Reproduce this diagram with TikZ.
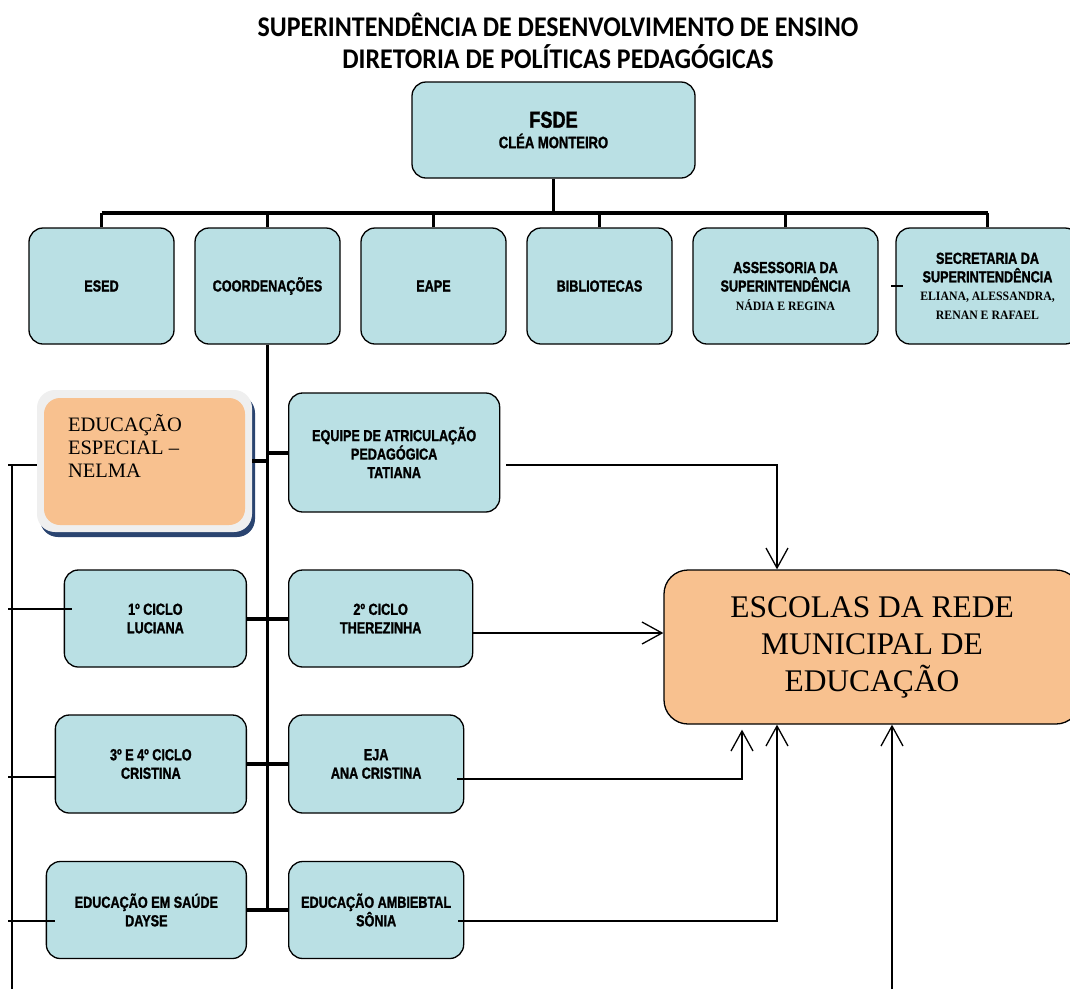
\documentclass[tikz,border=0pt]{standalone}
\usepackage{fontspec}
\usetikzlibrary{positioning,arrows.meta}

\definecolor{boxblue}{HTML}{BAE0E4}
\definecolor{boxorange}{HTML}{F8C18F}
\definecolor{framegray}{HTML}{EFEFEF}
\definecolor{shadownavy}{HTML}{2A4470}

\newfontfamily\boxfont[FakeStretch=0.79,FakeBold=1.4]{Liberation Sans Bold}
\newfontfamily\namefont[FakeStretch=0.92]{Liberation Serif Bold}
\newfontfamily\bigserif{Liberation Serif}
\newfontfamily\titlefont[FakeStretch=0.91]{Carlito Bold}
\newcommand{\staffname}[1]{{\namefont\fontsize{12.8}{14.5}\selectfont #1}}

\begin{document}
\begin{tikzpicture}[x=1pt,y=-1pt,>={Straight Barb[length=20pt,width=22pt]},
  unit box/.style={draw=black,line width=1.3pt,fill=boxblue,rounded corners=14pt,align=center,inner sep=2pt,font=\boxfont\fontsize{16}{18.5}\selectfont},
  top box/.style={unit box,minimum width=145pt,minimum height=116pt},
  sub box/.style={unit box,minimum height=97pt},
  bus line/.style={line width=4pt},
  drop line/.style={line width=2.2pt},
  trunk line/.style={line width=3pt},
  link line/.style={line width=4pt},
  rail line/.style={line width=1.3pt},
  flow line/.style={line width=1.3pt,->}]

  \path[use as bounding box,fill=white] (0,0) rectangle (1070,989);

  % titulo
  \node[font=\titlefont\fontsize{28.5}{32}\selectfont,align=center] (title) at (558,41)
    {SUPERINTENDÊNCIA DE DESENVOLVIMENTO DE ENSINO\\DIRETORIA DE POLÍTICAS PEDAGÓGICAS};

  % topo do organograma
  \node[unit box,minimum width=283pt,minimum height=96pt] (fsde) at (553.5,130)
    {{\fontsize{23}{24}\selectfont FSDE}\\[2pt]{\fontsize{16.5}{18.5}\selectfont CLÉA MONTEIRO}};

  \node[top box] (esed) at (101.5,286) {ESED};
  \node[top box] (coord) [right=19.7pt of esed] {COORDENAÇÕES};
  \node[top box] (eape) [right=19.7pt of coord] {EAPE};
  \node[top box] (biblio) [right=19.7pt of eape] {BIBLIOTECAS};
  \node[top box,minimum width=185pt] (assess) [right=19.7pt of biblio]
    {ASSESSORIA DA\\SUPERINTENDÊNCIA\\\staffname{NÁDIA E REGINA}};
  \node[top box,minimum width=183pt] (secr) [right=16.7pt of assess]
    {SECRETARIA DA\\SUPERINTENDÊNCIA\\\staffname{ELIANA, ALESSANDRA,}\\\staffname{RENAN E RAFAEL}};

  \path (fsde.south) ++(0,34) coordinate (bus);
  \draw[drop line] (fsde.south) -- (bus);
  \draw[bus line] (esed.north |- bus) -- (secr.north |- bus);
  \foreach \n in {esed,coord,eape,biblio,assess,secr}
    \draw[drop line] (\n.north) -- (\n.north |- bus);
  \draw[rail line] ([xshift=-4pt]secr.west) -- ([xshift=8pt]secr.west);

  % coordenacoes
  \node[fill=shadownavy,rounded corners=18pt,minimum width=215pt,minimum height=142pt] (especial shadow) at (147.5,466) {};
  \node[fill=framegray,rounded corners=18pt,minimum width=215pt,minimum height=142pt] (especial frame) at (144.5,461) {};
  \node[fill=boxorange,rounded corners=16pt,minimum width=201pt,minimum height=127pt] (especial) at (144.5,461.5) {};
  \node[anchor=north west,inner sep=0pt,align=left,font=\bigserif\fontsize{20.5}{23}\selectfont] (especial label)
    at ([xshift=24pt,yshift=-16pt]especial.north west) {EDUCAÇÃO\\ESPECIAL –\\NELMA};

  \node[sub box,minimum width=211pt,minimum height=119pt,anchor=west] (equipe) at (288,452.5)
    {EQUIPE DE ATRICULAÇÃO\\PEDAGÓGICA\\TATIANA};

  \node[sub box,minimum width=182pt,anchor=east] (ciclo1) at (247,618.5) {1º CICLO\\LUCIANA};
  \node[sub box,minimum width=184pt] (ciclo2) [right=41pt of ciclo1] {2º CICLO\\THEREZINHA};
  \node[sub box,minimum width=191pt,minimum height=98pt,anchor=east] (ciclo34) at (247,764) {3º E 4º CICLO\\CRISTINA};
  \node[sub box,minimum width=175pt,minimum height=98pt] (eja) [right=41pt of ciclo34] {EJA\\ANA CRISTINA};
  \node[sub box,minimum width=200pt,anchor=east] (saude) at (247,910) {EDUCAÇÃO EM SAÚDE\\DAYSE};
  \node[sub box,minimum width=175pt] (ambiental) [right=41pt of saude] {EDUCAÇÃO AMBIEBTAL\\SÔNIA};

  \draw[trunk line] (coord.south) -- ([yshift=-2pt]coord.south |- saude.east);
  \draw[link line] (especial frame.east) -- (especial frame.east -| coord.south);
  \draw[link line] (equipe.west) -- (equipe.west -| coord.south);
  \draw[link line] (ciclo1.east) -- (ciclo2.west);
  \draw[link line] (ciclo34.east) -- (eja.west);
  \draw[link line] (saude.east) -- (ambiental.west);

  % escolas
  \node[draw=black,line width=1.3pt,fill=boxorange,rounded corners=24pt,minimum width=416pt,minimum height=154pt,
        align=center,font=\bigserif\fontsize{31.5}{37}\selectfont] (escolas) at (872,647)
    {ESCOLAS DA REDE\\MUNICIPAL DE\\EDUCAÇÃO};

  \draw[flow line] ([xshift=6pt,yshift=-12.5pt]equipe.east) -| ([xshift=-95pt]escolas.north);
  \draw[flow line] ([yshift=-14.5pt]ciclo2.east) -- ([yshift=-14.5pt]ciclo2.east -| escolas.west);
  \draw[flow line] ([xshift=-7pt,yshift=-15pt]eja.east) -| ([xshift=-130pt,yshift=-5pt]escolas.south);
  \draw[flow line] ([xshift=-6pt,yshift=-11pt]ambiental.east) -| ([xshift=-95pt]escolas.south);
  \coordinate (feed) at (892,989);
  \draw[flow line] (feed) -- (feed |- escolas.south);

  % linha lateral
  \coordinate (rail) at (8,0);
  \coordinate (rail foot) at (12,989);
  \draw[rail line] (especial frame.west) ++(0,4) coordinate (s1) -- (rail |- s1);
  \draw[rail line] ([xshift=8pt]ciclo1.west) ++(0,-9.5) coordinate (s2) -- (rail |- s2);
  \draw[rail line] (ciclo34.west) ++(0,13) coordinate (s3) -- (rail |- s3);
  \draw[rail line] ([xshift=9pt]saude.west) ++(0,11) coordinate (s4) -- (rail |- s4);
  \draw[rail line] (rail foot |- s1) -- (rail foot);
\end{tikzpicture}
\end{document}
